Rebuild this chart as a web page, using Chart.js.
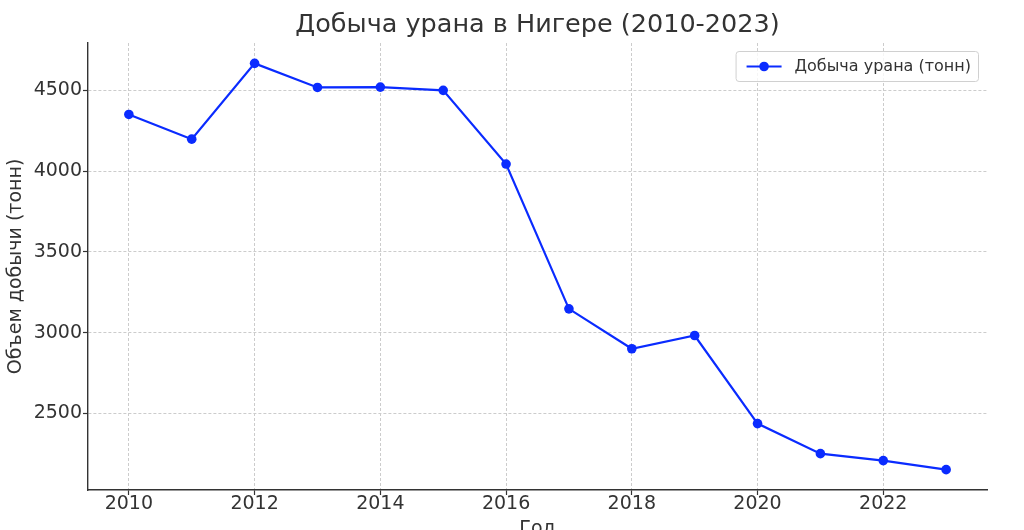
<!DOCTYPE html>
<html>
<head>
<meta charset="utf-8">
<script src="https://cdn.jsdelivr.net/npm/chart.js@4.4.1/dist/chart.umd.min.js"></script>
<style>
  html, body { margin: 0; padding: 0; background: #fff; overflow: hidden; }
  #wrap { width: 1024px; height: 530px; overflow: hidden; }
</style>
</head>
<body>
<div id="wrap">
  <canvas id="chart" width="1024" height="560"></canvas>
</div>
<script>
// data
const years = [2010, 2011, 2012, 2013, 2014, 2015, 2016, 2017, 2018, 2019, 2020, 2021, 2022, 2023];
const production = [4351, 4198, 4667, 4518, 4520, 4500, 4044, 3148, 2901, 2983, 2438, 2252, 2209, 2153];
const xTicks = [2010, 2012, 2014, 2016, 2018, 2020, 2022];
const yTicks = [2500, 3000, 3500, 4000, 4500];

const titleText = 'Добыча урана в Нигере (2010-2023)';
const seriesLabel = 'Добыча урана (тонн)';
const lineColor = '#0a2bff';
const textColor = '#333333';
const FONT = "'DejaVu Sans', sans-serif";

// title + framed legend, matplotlib style
const decorations = {
  id: 'decorations',
  afterDraw(chart) {
    const ctx = chart.ctx;
    const area = chart.chartArea;
    ctx.save();
    // title
    ctx.fillStyle = textColor;
    ctx.font = '25.5px ' + FONT;
    ctx.textAlign = 'center';
    ctx.textBaseline = 'middle';
    ctx.fillText(titleText, (area.left + area.right) / 2, 25);

    // legend
    ctx.font = '16px ' + FONT;
    const tw = ctx.measureText(seriesLabel).width;
    const bw = tw + 66, bh = 30;
    const bx = area.right - 9 - bw, by = area.top + 8;
    ctx.fillStyle = 'rgba(255,255,255,0.8)';
    ctx.strokeStyle = '#d0d0d0';
    ctx.lineWidth = 1;
    ctx.beginPath();
    ctx.roundRect(bx + 0.5, by + 0.5, bw, bh, 3);
    ctx.fill();
    ctx.stroke();
    const cy = by + bh / 2 + 0.5;
    ctx.strokeStyle = lineColor;
    ctx.lineWidth = 2.2;
    ctx.beginPath();
    ctx.moveTo(bx + 11, cy);
    ctx.lineTo(bx + 46, cy);
    ctx.stroke();
    ctx.fillStyle = lineColor;
    ctx.beginPath();
    ctx.arc(bx + 28.5, cy, 4.8, 0, Math.PI * 2);
    ctx.fill();
    ctx.fillStyle = textColor;
    ctx.textAlign = 'left';
    ctx.fillText(seriesLabel, bx + 59, cy);
    ctx.restore();
  }
};

const gridOpts = {
  color: '#cccccc',
  lineWidth: 1,
  drawTicks: true,
  tickLength: 5,
  tickColor: textColor,
  tickBorderDash: [],
  tickWidth: 1.2
};
const borderOpts = { display: true, color: textColor, width: 1.4, dash: [3, 2] };

new Chart(document.getElementById('chart'), {
  type: 'line',
  data: {
    datasets: [{
      label: seriesLabel,
      data: years.map((y, i) => ({ x: y, y: production[i] })),
      borderColor: lineColor,
      backgroundColor: lineColor,
      borderWidth: 2.2,
      pointRadius: 4.8,
      pointHoverRadius: 4.8,
      pointBorderWidth: 0,
      tension: 0
    }]
  },
  options: {
    responsive: false,
    animation: false,
    layout: { padding: { top: 43, right: 37, left: 0, bottom: 0 } },
    plugins: {
      legend: { display: false },
      title: { display: false },
      tooltip: { enabled: false }
    },
    scales: {
      x: {
        type: 'linear',
        min: 2009.35,
        max: 2023.65,
        afterBuildTicks: axis => { axis.ticks = xTicks.map(v => ({ value: v })); },
        afterFit: axis => { axis.height = 70; },
        ticks: {
          color: textColor,
          font: { family: FONT, size: 19 },
          padding: -2,
          maxRotation: 0,
          callback: v => String(v)
        },
        grid: gridOpts,
        border: borderOpts,
        title: {
          display: true,
          text: 'Год',
          color: textColor,
          font: { family: FONT, size: 19 },
          padding: { top: 0, bottom: 20 }
        }
      },
      y: {
        type: 'linear',
        min: 2027,
        max: 4793,
        afterBuildTicks: axis => { axis.ticks = yTicks.map(v => ({ value: v })); },
        afterFit: axis => { axis.width = 88; },
        ticks: {
          color: textColor,
          font: { family: FONT, size: 19 },
          padding: 1,
          callback: v => String(v)
        },
        grid: gridOpts,
        border: borderOpts,
        title: {
          display: true,
          text: 'Объем добычи (тонн)',
          color: textColor,
          font: { family: FONT, size: 19 },
          padding: { top: 5, bottom: 0 }
        }
      }
    }
  },
  plugins: [decorations]
});
</script>
</body>
</html>
